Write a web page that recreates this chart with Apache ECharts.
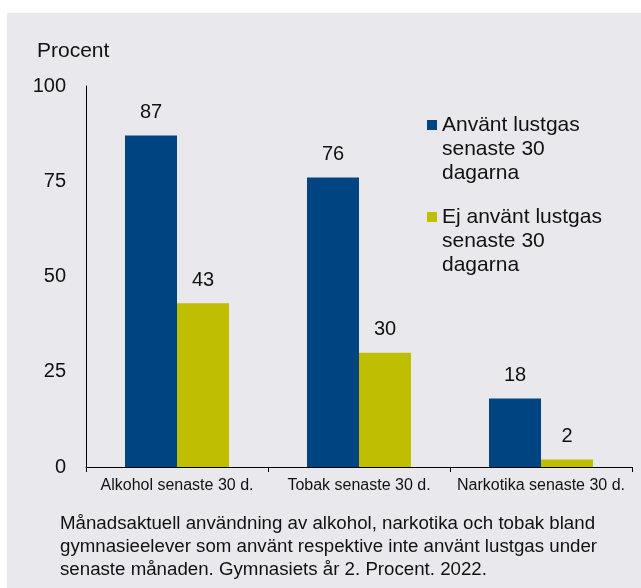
<!DOCTYPE html>
<html>
<head>
<meta charset="utf-8">
<script src="https://cdn.jsdelivr.net/npm/echarts@6/dist/echarts.min.js"></script>
<style>
  html, body { margin: 0; padding: 0; background: #ffffff; }
  #chart { width: 641px; height: 588px; }
</style>
</head>
<body>
<div id="chart"></div>
<script>
const categories = ['Alkohol senaste 30 d.', 'Tobak senaste 30 d.', 'Narkotika senaste 30 d.'];
const usedLustgas = [87, 76, 18];
const notUsedLustgas = [43, 30, 2];
const seriesNames = ['Använt lustgas\nsenaste 30\ndagarna', 'Ej använt lustgas\nsenaste 30\ndagarna'];
const yMin = 0, yMax = 100, yInterval = 25;
const yAxisTitle = 'Procent';
const footerText = 'Månadsaktuell användning av alkohol, narkotika och tobak bland\ngymnasieelever som använt respektive inte använt lustgas under\nsenaste månaden. Gymnasiets år 2. Procent. 2022.';

const FONT = '"Liberation Sans", Arial, sans-serif';
const TEXT = '#111111';
const colors = ['#004582', '#C0BE00'];

const chart = echarts.init(document.getElementById('chart'), null, { renderer: 'canvas' });

const legendIcon = 'path://M0,0 L10,0 L10,10 L0,10 Z M0,58';

chart.setOption({
  backgroundColor: '#ffffff',
  animation: false,
  textStyle: { fontFamily: FONT, color: TEXT },
  color: colors,
  graphic: [
    { type: 'rect', z: -10, shape: { x: 7, y: 13, width: 634, height: 575 }, style: { fill: '#E9E8ED' } },
    { type: 'text', left: 37, top: 41, style: { text: yAxisTitle, font: '21px ' + FONT, fill: TEXT } },
    { type: 'text', left: 60, top: 512, style: { text: footerText, font: '18.7px ' + FONT, fill: TEXT, lineHeight: 23 } }
  ],
  legend: {
    orient: 'vertical',
    left: 427,
    top: 113,
    padding: 0,
    itemGap: 20,
    itemWidth: 10,
    itemHeight: 58,
    icon: legendIcon,
    selectedMode: false,
    textStyle: { fontFamily: FONT, fontSize: 21, lineHeight: 24, color: TEXT },
    data: seriesNames
  },
  grid: { left: 86, right: 9, top: 86, bottom: 121, containLabel: false },
  xAxis: {
    type: 'category',
    data: categories,
    axisLine: { show: true, lineStyle: { color: '#000', width: 1 } },
    axisTick: { show: true, length: 5, inside: false, interval: 0, lineStyle: { color: '#000' } },
    axisLabel: { fontFamily: FONT, fontSize: 16, color: TEXT, margin: 11, interval: 0, hideOverlap: false },
    splitLine: { show: false }
  },
  yAxis: {
    type: 'value',
    min: yMin,
    max: yMax,
    interval: yInterval,
    axisLine: { show: true, lineStyle: { color: '#000', width: 1 } },
    axisTick: { show: false },
    axisLabel: { fontFamily: FONT, fontSize: 20, color: TEXT, margin: 20 },
    splitLine: { show: false }
  },
  series: [
    {
      name: seriesNames[0],
      type: 'bar',
      data: usedLustgas,
      barWidth: 52,
      barGap: '0%',
      itemStyle: { color: colors[0] },
      label: { show: true, position: 'top', distance: 13, fontFamily: FONT, fontSize: 20, color: TEXT }
    },
    {
      name: seriesNames[1],
      type: 'bar',
      data: notUsedLustgas,
      barWidth: 52,
      barGap: '0%',
      itemStyle: { color: colors[1] },
      label: { show: true, position: 'top', distance: 13, fontFamily: FONT, fontSize: 20, color: TEXT }
    }
  ]
});
</script>
</body>
</html>
